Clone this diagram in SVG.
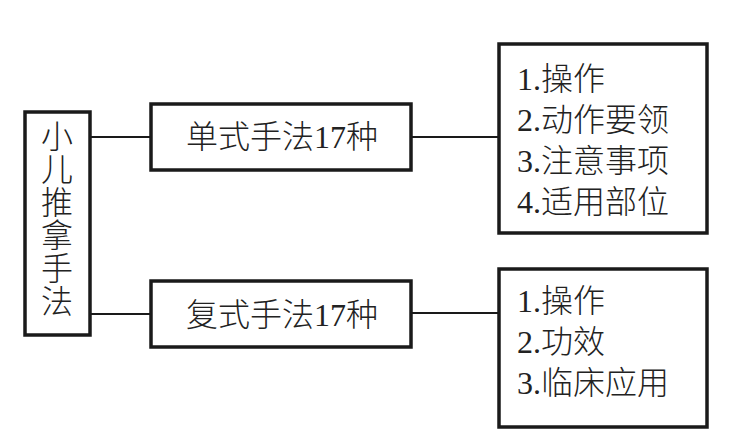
<svg xmlns="http://www.w3.org/2000/svg" width="749" height="446" viewBox="0 0 749 446">
<style>
.box{fill:#fff;stroke:#1a1a1a;stroke-width:3.5}
.ln{stroke:#1a1a1a;stroke-width:2;fill:none}
text{font-family:"Liberation Serif","Noto Sans CJK SC",serif;fill:#222;font-size:32px;font-weight:300}
.c{text-anchor:middle}
</style>
<rect width="749" height="446" fill="#fff"/>
<g id="connectors">
<line class="ln" x1="90" y1="137" x2="151" y2="137"/>
<line class="ln" x1="90" y1="314" x2="151" y2="314"/>
<line class="ln" x1="411" y1="137" x2="499" y2="137"/>
<line class="ln" x1="411" y1="313" x2="499" y2="313"/>
</g>
<g id="root">
<rect class="box" x="25" y="112" width="65" height="223"/>
<text class="c" x="57" y="148">小</text>
<text class="c" x="57" y="181">儿</text>
<text class="c" x="57" y="214">推</text>
<text class="c" x="57" y="247">拿</text>
<text class="c" x="57" y="280">手</text>
<text class="c" x="57" y="313">法</text>
</g>
<g id="single">
<rect class="box" x="151" y="104" width="260" height="66"/>
<text class="c" x="282" y="148">单式手法17种</text>
</g>
<g id="compound">
<rect class="box" x="151" y="281" width="260" height="66"/>
<text class="c" x="282" y="326">复式手法17种</text>
</g>
<g id="single-items">
<rect class="box" x="499" y="44" width="208" height="189"/>
<text x="517" y="90">1.操作</text>
<text x="517" y="131">2.动作要领</text>
<text x="517" y="172">3.注意事项</text>
<text x="517" y="213">4.适用部位</text>
</g>
<g id="compound-items">
<rect class="box" x="499" y="269" width="208" height="158"/>
<text x="517" y="312">1.操作</text>
<text x="517" y="353">2.功效</text>
<text x="517" y="394">3.临床应用</text>
</g>
</svg>
